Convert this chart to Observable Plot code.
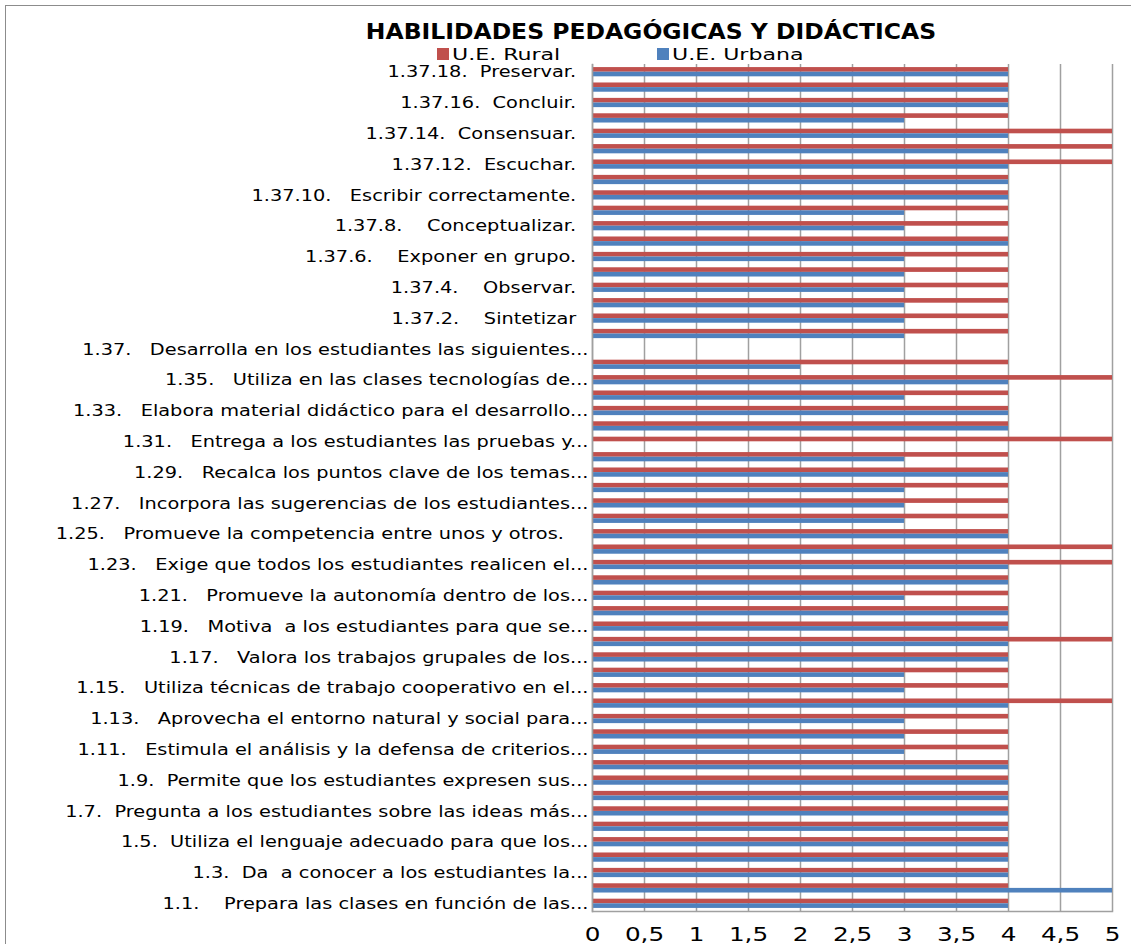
<!DOCTYPE html>
<html>
<head>
<meta charset="utf-8">
<script src="https://cdn.jsdelivr.net/npm/d3@7"></script>
<script src="https://cdn.jsdelivr.net/npm/@observablehq/plot@0.6"></script>
<style>
  html, body { margin: 0; padding: 0; background: #fff; }
  #wrap { position: relative; width: 1131px; height: 944px; overflow: hidden; font-family: "DejaVu Sans", sans-serif; }
  #border { position: absolute; z-index: 10; left: 5px; top: 5px; width: 1200px; height: 1000px; border-left: 1px solid #8c8c8c; border-top: 1px solid #8c8c8c; pointer-events: none; }
  #title { position: absolute; left: 0; width: 1302px; top: 19px; text-align: center; font-weight: bold; font-size: 22px; line-height: normal; color: #000; white-space: nowrap; transform: scaleX(1.067); transform-origin: 651px 0; }
  .leg { position: absolute; top: 45px; font-size: 16px; line-height: normal; color: #000; white-space: nowrap; }
  .leg .sw { display: inline-block; width: 12px; height: 12px; vertical-align: 0px; }
  .leg .tx { display: inline-block; transform: scaleX(1.38); transform-origin: 0 0; margin-left: 3px; }
  #chart { position: absolute; left: 0; top: 62px; }
  #chart svg text { white-space: pre; }
</style>
</head>
<body>
<div id="wrap">
  <div id="border"></div>
  <div id="title">HABILIDADES PEDAGÓGICAS Y DIDÁCTICAS</div>
  <div class="leg" style="left:437px"><span class="sw" style="background:#C0504D"></span><span class="tx">U.E. Rural</span></div>
  <div class="leg" style="left:657px"><span class="sw" style="background:#4F81BD"></span><span class="tx">U.E. Urbana</span></div>
  <div id="chart"></div>
</div>
<script>
// Category codes, bottom (1.1) to top (1.37.18)
const codes = [
  "1.1","1.2","1.3","1.4","1.5","1.6","1.7","1.8","1.9","1.10",
  "1.11","1.12","1.13","1.14","1.15","1.16","1.17","1.18","1.19","1.20",
  "1.21","1.22","1.23","1.24","1.25","1.26","1.27","1.28","1.29","1.30",
  "1.31","1.32","1.33","1.34","1.35","1.36","1.37",
  "1.37.1","1.37.2","1.37.3","1.37.4","1.37.5","1.37.6","1.37.7","1.37.8","1.37.9",
  "1.37.10","1.37.11","1.37.12","1.37.13","1.37.14","1.37.15","1.37.16","1.37.17","1.37.18"
];
// U.E. Rural values (same order as codes)
const rural = [
  4,4,4,4,4,4,4,4,4,4,
  4,4,4,5,4,4,4,5,4,4,
  4,4,5,5,4,4,4,4,4,4,
  5,4,4,4,5,4,null,
  4,4,4,4,4,4,4,4,4,
  4,4,5,5,5,4,4,4,4
];
// U.E. Urbana values
const urbana = [
  4,5,4,4,4,4,4,4,4,4,
  3,3,3,4,3,3,4,4,4,4,
  3,4,4,4,4,3,3,3,4,3,
  null,4,4,3,4,2,null,
  3,3,3,3,3,3,4,3,3,
  4,4,4,4,4,3,4,4,4
];
// Tick labels shown on the category axis
const tickLabels = {
  "1.1": "1.1.    Prepara las clases en función de las...",
  "1.3": "1.3.  Da  a conocer a los estudiantes la...",
  "1.5": "1.5.  Utiliza el lenguaje adecuado para que los...",
  "1.7": "1.7.  Pregunta a los estudiantes sobre las ideas más...",
  "1.9": "1.9.  Permite que los estudiantes expresen sus...",
  "1.11": "1.11.   Estimula el análisis y la defensa de criterios...",
  "1.13": "1.13.   Aprovecha el entorno natural y social para...",
  "1.15": "1.15.   Utiliza técnicas de trabajo cooperativo en el...",
  "1.17": "1.17.   Valora los trabajos grupales de los...",
  "1.19": "1.19.   Motiva  a los estudiantes para que se...",
  "1.21": "1.21.   Promueve la autonomía dentro de los...",
  "1.23": "1.23.   Exige que todos los estudiantes realicen el...",
  "1.25": "1.25.   Promueve la competencia entre unos y otros.    ",
  "1.27": "1.27.   Incorpora las sugerencias de los estudiantes...",
  "1.29": "1.29.   Recalca los puntos clave de los temas...",
  "1.31": "1.31.   Entrega a los estudiantes las pruebas y...",
  "1.33": "1.33.   Elabora material didáctico para el desarrollo...",
  "1.35": "1.35.   Utiliza en las clases tecnologías de...",
  "1.37": "1.37.   Desarrolla en los estudiantes las siguientes...",
  "1.37.2": "1.37.2.    Sintetizar  ",
  "1.37.4": "1.37.4.    Observar.  ",
  "1.37.6": "1.37.6.    Exponer en grupo.  ",
  "1.37.8": "1.37.8.    Conceptualizar.  ",
  "1.37.10": "1.37.10.   Escribir correctamente.  ",
  "1.37.12": "1.37.12.  Escuchar.  ",
  "1.37.14": "1.37.14.  Consensuar.  ",
  "1.37.16": "1.37.16.  Concluir.  ",
  "1.37.18": "1.37.18.  Preservar.  "
};
const xTicks = [0, 0.5, 1, 1.5, 2, 2.5, 3, 3.5, 4, 4.5, 5];

const rows = codes.map((c, i) => ({code: c, rural: rural[i], urbana: urbana[i]}));

const H = 882, mTop = 2, mBottom = 33;
const pInner = 0.4, pOuter = 0.2;
const stepExact = (H - mTop - mBottom) / (codes.length - pInner + 2 * pOuter);
const half = stepExact * (1 - pInner) / 2;

const chart = Plot.plot({
  width: 1131,
  height: H,
  marginLeft: 592,
  marginRight: 19,
  marginTop: mTop,
  marginBottom: mBottom,
  style: {fontFamily: "DejaVu Sans, sans-serif", background: "transparent"},
  x: {domain: [0, 5], label: null},
  y: {domain: codes.slice().reverse(), paddingInner: pInner, paddingOuter: pOuter, round: false, label: null},
  marks: [
    Plot.gridX(xTicks, {stroke: "#a0a0a0", strokeOpacity: 1, strokeWidth: 1.5}),
    Plot.barX(rows.filter(d => d.rural != null), {x: "rural", y: "code", fill: "#C0504D", insetBottom: half}),
    Plot.barX(rows.filter(d => d.urbana != null), {x: "urbana", y: "code", fill: "#4F81BD", insetTop: half}),
    Plot.frame({anchor: "bottom", stroke: "#a0a0a0", strokeWidth: 1.5}),
    Plot.frame({anchor: "left", stroke: "#a0a0a0", strokeWidth: 1.5}),
    Plot.axisY({tickSize: 0, tickPadding: 4, fontSize: 16, fill: "#000",
      tickFormat: c => tickLabels[c] ?? ""}),
    Plot.axisX(xTicks, {tickSize: 0, tickPadding: 16, fontSize: 19, fill: "#000",
      tickFormat: d => String(d).replace(".", ",")})
  ]
});

// Horizontal stretch of the axis texts (the reference font is wider)
function stretch(selector, s) {
  chart.querySelectorAll(selector).forEach(t => {
    const x = +t.getAttribute("x") || 0, y = +t.getAttribute("y") || 0;
    const tr = t.getAttribute("transform") || "";
    t.setAttribute("transform", `${tr} translate(${x},${y}) scale(${s},1) translate(${-x},${-y})`);
  });
}
stretch('g[aria-label="y-axis tick label"] text', 1.21);
stretch('g[aria-label="x-axis tick label"] text', 1.3);

document.getElementById("chart").appendChild(chart);
</script>
</body>
</html>
